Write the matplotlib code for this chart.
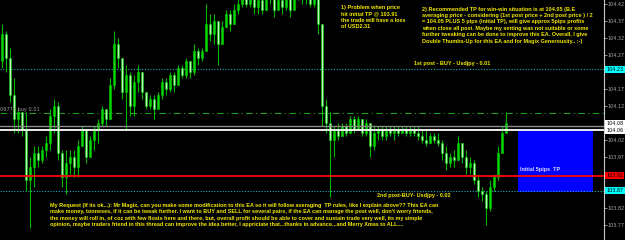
import matplotlib.pyplot as plt
from matplotlib.patches import Rectangle
import matplotlib.transforms as mtransforms

# USDJPY candles (one per bar, left to right)
first_open = 104.25
closes = [104.33, 104.26, 104.15, 104.08, 104.10, 104.05, 103.90, 103.94, 103.98, 103.96,
          103.99, 104.01, 104.09, 104.12, 103.98, 103.91, 103.95, 103.97, 103.94, 104.00,
          104.05, 103.97, 104.02, 104.05, 104.07, 104.11, 104.08, 104.18, 104.30, 104.26,
          104.16, 104.21, 104.12, 104.19, 104.22, 104.16, 104.12, 104.14, 104.11, 104.15,
          104.19, 104.17, 104.21, 104.18, 104.23, 104.21, 104.25, 104.22, 104.28, 104.26,
          104.28, 104.36, 104.33, 104.37, 104.30, 104.35, 104.39, 104.36, 104.40, 104.42,
          104.44, 104.42, 104.44, 104.41, 104.43, 104.40, 104.44, 104.46, 104.40, 104.43,
          104.41, 104.44, 104.40, 104.45, 104.46, 104.44, 104.45, 104.42, 104.44, 104.36,
          104.12, 104.07, 104.02, 104.05, 104.03, 104.06, 104.04, 104.08, 104.05, 104.08,
          104.04, 104.07, 104.00, 104.04, 104.05, 104.03, 104.05, 104.04, 104.05, 104.04,
          104.05, 104.04, 104.05, 104.04, 104.03, 104.02, 104.01, 104.03, 104.02, 104.01,
          103.98, 103.95, 103.97, 103.96, 104.01, 103.97, 103.94, 103.95, 103.90, 103.87,
          103.86, 103.82, 103.88, 103.91, 103.98, 104.04, 104.07]
highs = [104.36, 104.34, 104.29, 104.20, 104.11, 104.10, 104.10, 103.97, 104.00, 104.00,
         104.00, 104.03, 104.11, 104.14, 104.13, 103.99, 103.99, 103.99, 103.99, 104.02,
         104.06, 104.05, 104.03, 104.06, 104.08, 104.12, 104.11, 104.20, 104.34, 104.32,
         104.26, 104.24, 104.22, 104.21, 104.24, 104.22, 104.16, 104.15, 104.15, 104.16,
         104.20, 104.20, 104.22, 104.22, 104.24, 104.24, 104.26, 104.25, 104.30, 104.29,
         104.29, 104.42, 104.39, 104.39, 104.37, 104.37, 104.40, 104.40, 104.42, 104.44,
         104.45, 104.46, 104.45, 104.45, 104.45, 104.45, 104.46, 104.47, 104.46, 104.45,
         104.45, 104.46, 104.45, 104.47, 104.48, 104.48, 104.47, 104.47, 104.45, 104.46,
         104.36, 104.14, 104.10, 104.06, 104.07, 104.07, 104.07, 104.09, 104.09, 104.09,
         104.08, 104.08, 104.07, 104.06, 104.06, 104.06, 104.06, 104.06, 104.06, 104.06,
         104.06, 104.06, 104.06, 104.06, 104.06, 104.05, 104.05, 104.04, 104.04, 104.04,
         104.02, 104.00, 103.98, 103.99, 104.03, 104.01, 103.99, 103.97, 103.96, 103.92,
         103.88, 103.87, 103.90, 103.92, 104.00, 104.06, 104.10]
lows = [104.23, 104.22, 104.13, 104.04, 104.04, 104.03, 103.87, 103.76, 103.88, 103.94,
        103.95, 103.97, 103.99, 104.04, 103.96, 103.88, 103.86, 103.92, 103.91, 103.91,
        104.00, 103.95, 103.97, 103.99, 104.01, 104.06, 104.06, 104.08, 104.17, 104.23,
        104.14, 104.05, 104.09, 104.09, 104.16, 104.14, 104.11, 104.11, 104.08, 104.11,
        104.14, 104.15, 104.16, 104.16, 104.18, 104.20, 104.20, 104.20, 104.21, 104.24,
        104.25, 104.28, 104.31, 104.30, 104.24, 104.30, 104.35, 104.34, 104.36, 104.39,
        104.41, 104.41, 104.41, 104.39, 104.39, 104.39, 104.40, 104.42, 104.38, 104.40,
        104.39, 104.40, 104.38, 104.40, 104.43, 104.42, 104.42, 104.41, 104.41, 104.33,
        104.06, 104.04, 103.85, 103.97, 104.02, 104.03, 104.03, 104.04, 104.04, 104.05,
        104.03, 104.03, 103.97, 103.99, 104.02, 104.02, 104.02, 104.03, 104.02, 104.03,
        104.04, 104.03, 104.03, 104.03, 104.02, 104.01, 104.00, 104.01, 104.01, 104.00,
        103.96, 103.93, 103.94, 103.94, 103.96, 103.95, 103.92, 103.92, 103.89, 103.85,
        103.84, 103.77, 103.81, 103.87, 103.90, 103.98, 104.04]
opens = [first_open] + closes[:-1]

price_ticks = [104.42, 104.37, 104.32, 104.27, 104.22, 104.17, 104.12, 104.07,
               104.02, 103.97, 103.92, 103.87, 103.82, 103.77]
# tick labels that sit under a price tag are not shown
hidden_ticks = [104.22, 104.07, 103.92, 103.87]

# horizontal levels
first_post = 104.227
order_line = 104.098
ask_line = 104.060
be_line = 104.048
tp_line = 103.913
second_post = 103.869
tp_box_top = 104.045
tp_box_bottom = 103.866

price_tags = ["104.23", "104.08", "104.06", "103.92", "103.87"]
price_tag_levels = [104.227, 104.067, 104.046, 103.913, 103.869]
price_tag_colors = ["#00ffff", "#ffffff", "#ffffff", "#ff0000", "#00ffff"]

note1 = ("1) Problem when price\nhit initial TP @ 103.91\n"
         "the trade will have a loss\nof USD2.31")
note2 = ("2) Recommended TP for win-win situation is at 104.05 (B.E\n"
         "averaging price - considering (1st post price + 2nd post price ) / 2\n"
         "= 104.05 PLUS 5 pips (initial TP), will give approx 5pips profits\n"
         "when close all post. Maybe my setting was not suitable or some\n"
         "further tweaking can be done to improve this EA. Overall, I give\n"
         "Double Thumbs-Up for this EA and for Magix Generousity.. :-)")
request = ("My Request (If its ok...): Mr Magix, can you make some modification to this EA so it will follow averaging  TP rules, like I explain above?? This EA can\n"
           "make money, tonneses, if it can be tweak further. I want to BUY and SELL for several pairs, if the EA can manage the post well, don't worry friends,\n"
           "the money will roll in, of coz with few floats here and there, but, overall profit should be able to cover and sustain trade very well, its my simple\n"
           "opinion, maybe traders friend in this thread can improve the idea better, I appriciate that...thanks in advance...and Merry Xmas to ALL....")

fig = plt.figure(figsize=(6.25, 2.4), dpi=100, facecolor='black')
ax = fig.add_axes([0, 0, 604 / 625, 1])
ax.set_facecolor('black')
top = 104.4303
ax.set_ylim(top - 240 / 340, top)
ax.set_xlim(-0.5, 150.5)

# TP box
ax.add_patch(Rectangle((129, tp_box_bottom), 18.75, tp_box_top - tp_box_bottom,
                       facecolor='#0000ff', edgecolor='none', zorder=1))

# candles
x = list(range(len(closes)))
ax.vlines(x, lows, highs, color='#00b800', lw=0.8, zorder=3)
bottoms = [min(o, c) for o, c in zip(opens, closes)]
heights = [max(abs(c - o), 0.004) for o, c in zip(opens, closes)]
faces = ['#00d800' if c >= o else '#b8f8b8' for o, c in zip(opens, closes)]
ax.bar(x, heights, bottom=bottoms, width=0.5, color=faces,
       edgecolor='#00c800', linewidth=0.4, zorder=4)

# lines
ax.axhline(first_post, color='#22a8b8', lw=0.8, ls=(0, (1, 1.5)), zorder=2)
ax.axhline(order_line, color='#1e9e1e', lw=0.8, ls=(0, (6, 3, 1, 3)), zorder=2)
ax.axhline(ask_line, color='#8c8c8c', lw=1.0, zorder=5)
ax.axhline(be_line, color='#ffffff', lw=1.3, zorder=5)
ax.axhline(tp_line, color='#ff0000', lw=1.3, zorder=5)
ax.axhline(second_post, color='#22a8b8', lw=0.8, ls=(0, (1, 1.5)), zorder=2)

# axis
ax.yaxis.tick_right()
ax.set_yticks(price_ticks)
ax.set_yticklabels(['' if v in hidden_ticks else f'{v:.2f}' for v in price_ticks])
ax.tick_params(axis='y', colors='#a8a8a8', labelsize=3.5, length=2, width=0.6, pad=0.8)
ax.set_xticks([])
for side in ['left', 'top', 'bottom']:
    ax.spines[side].set_visible(False)
ax.spines['right'].set_color('#c8c8c8')
ax.spines['right'].set_linewidth(0.8)

trans = mtransforms.blended_transform_factory(ax.transAxes, ax.transData)
for tag, lvl, col in zip(price_tags, price_tag_levels, price_tag_colors):
    ax.text(1.004, lvl, tag, transform=trans, ha='left', va='center', fontsize=3.5,
            color='#000000', clip_on=False, zorder=10,
            bbox=dict(boxstyle='square,pad=0.2', fc=col, ec='none'))

txt = dict(family='Liberation Sans', weight='bold', fontsize=4.0, color='#f0e800',
           linespacing=1.36, zorder=8)
ax.text(84.75, top - 5 / 340, note1, ha='left', va='top', **txt)
ax.text(105, top - 6.5 / 340, note2, ha='left', va='top', **txt)
ax.text(103, top - 63 / 340, "1st post - BUY - Usdjpy - 0.01", ha='left', va='center', **txt)
ax.text(93.75, top - 195.5 / 340, "2nd post-BUY- Usdjpy - 0.02", ha='left', va='center', **txt)
ax.text(12, top - 203 / 340, request, ha='left', va='top', **txt)
ax.text(129.5, top - 170 / 340, "Initial 5pips  TP", ha='left', va='center',
        family='Liberation Sans', weight='bold', fontsize=4.0, color='#d8d8ff', zorder=8)
ax.text(-0.5, top - 109.5 / 340, "06773 buy 0.01", ha='left', va='center',
        fontsize=3.6, color='#a0a0a0', zorder=8)

fig.savefig('out.png', dpi=100, facecolor='black')
